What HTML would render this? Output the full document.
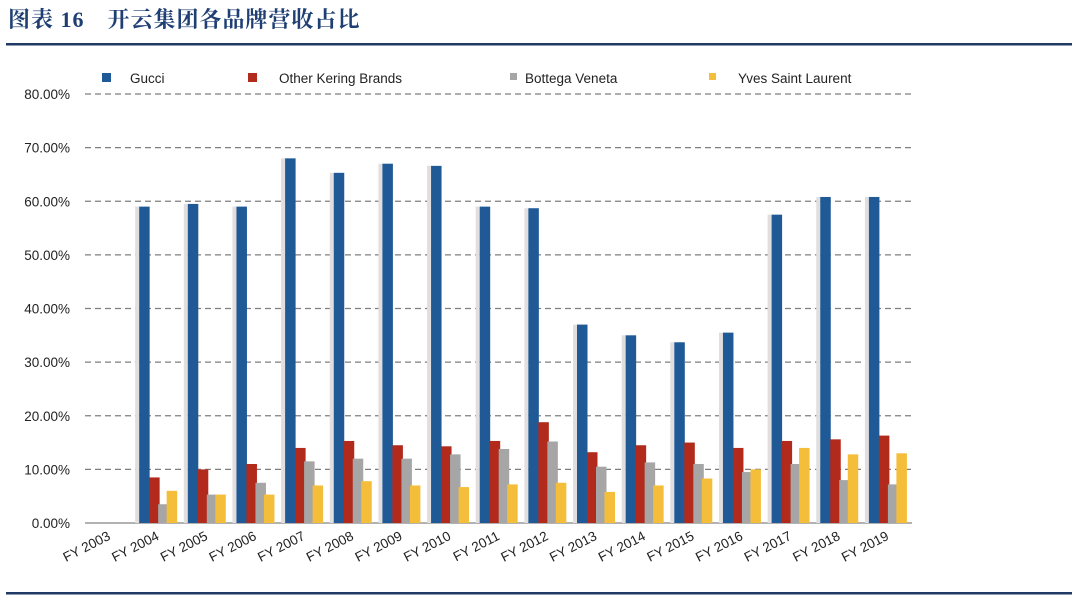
<!DOCTYPE html>
<html><head><meta charset="utf-8"><style>
body{margin:0;background:#fff;width:1080px;height:601px;overflow:hidden}
svg{display:block}
</style></head><body>
<svg width="1080" height="601" xmlns="http://www.w3.org/2000/svg" font-family="Liberation Sans, Arial, sans-serif">
<text x="8" y="27" font-family="Liberation Serif, Noto Serif CJK SC, serif" font-size="22" font-weight="bold" fill="#1f3f73" letter-spacing="1">图表 16　开云集团各品牌营收占比</text>
<rect x="6" y="43" width="1066" height="2.5" fill="#1f3864"/>
<rect x="6" y="592" width="1066" height="2.5" fill="#1f3864"/>
<g id="chart"></g>
</svg>
<script>
var g=document.getElementById('chart'),NS='http://www.w3.org/2000/svg';
function el(t,a,txt){var e=document.createElementNS(NS,t);for(var k in a)e.setAttribute(k,a[k]);if(txt)e.textContent=txt;g.appendChild(e);return e;}
var y0=523,s=5.3625;
for(var i=0;i<=8;i++){var y=y0-i*10*s;
 if(i>0)el('line',{x1:85,x2:912,y1:y,y2:y,stroke:'#7f7f7f','stroke-width':1.3,'stroke-dasharray':'6,4'});
 el('text',{x:70,y:y+5,'text-anchor':'end','font-size':13.5,fill:'#222'},(i*10).toFixed(2)+'%');}
el('line',{x1:85,x2:912,y1:y0,y2:y0,stroke:'#666','stroke-width':1});
var G=[59,59.5,59,68,65.3,67,66.6,59,58.7,37,35,33.7,35.5,57.5,60.8,60.8];
var O=[8.5,10,11,14,15.3,14.5,14.3,15.3,18.8,13.2,14.5,15,14,15.3,15.6,16.3];
var B=[3.5,5.3,7.5,11.5,12,12,12.8,13.8,15.2,10.5,11.3,11,9.5,11,8,7.2];
var Y=[6,5.3,5.3,7,7.8,7,6.7,7.2,7.5,5.8,7,8.3,10,14,12.8,13];
var cols=['#1f5a96','#b22a1c','#a6a6a6','#f5be3a'],offs=[5.5,15.5,24.5,33],data=[G,O,B,Y];
var step=48.65;
for(var c=0;c<17;c++){var x0=85+c*step;
 if(c>0){var gx=x0+offs[0]-4;el('rect',{x:gx,y:y0-G[c-1]*s,width:4,height:G[c-1]*s,fill:'#e2dede'});
  for(var k=0;k<4;k++){var v=data[k][c-1];el('rect',{x:x0+offs[k],y:y0-v*s,width:10.5,height:v*s,fill:cols[k]});}}
 var cx=x0+step/2+2;
 el('text',{x:cx,y:539,'text-anchor':'end','font-size':13.5,fill:'#222',transform:'rotate(-27 '+cx+' 539)'},'FY '+(2003+c));}
var L=[[102,130,'Gucci'],[248,279,'Other Kering Brands'],[510,525,'Bottega Veneta'],[709,738,'Yves Saint Laurent']];
for(var k=0;k<4;k++){el('rect',{x:L[k][0],y:73,width:k==2||k==3?7:9,height:k==2||k==3?7:9,fill:cols[k]});
 el('text',{x:L[k][1],y:83,'font-size':13.5,fill:'#222'},L[k][2]);}
</script>
</body></html>
